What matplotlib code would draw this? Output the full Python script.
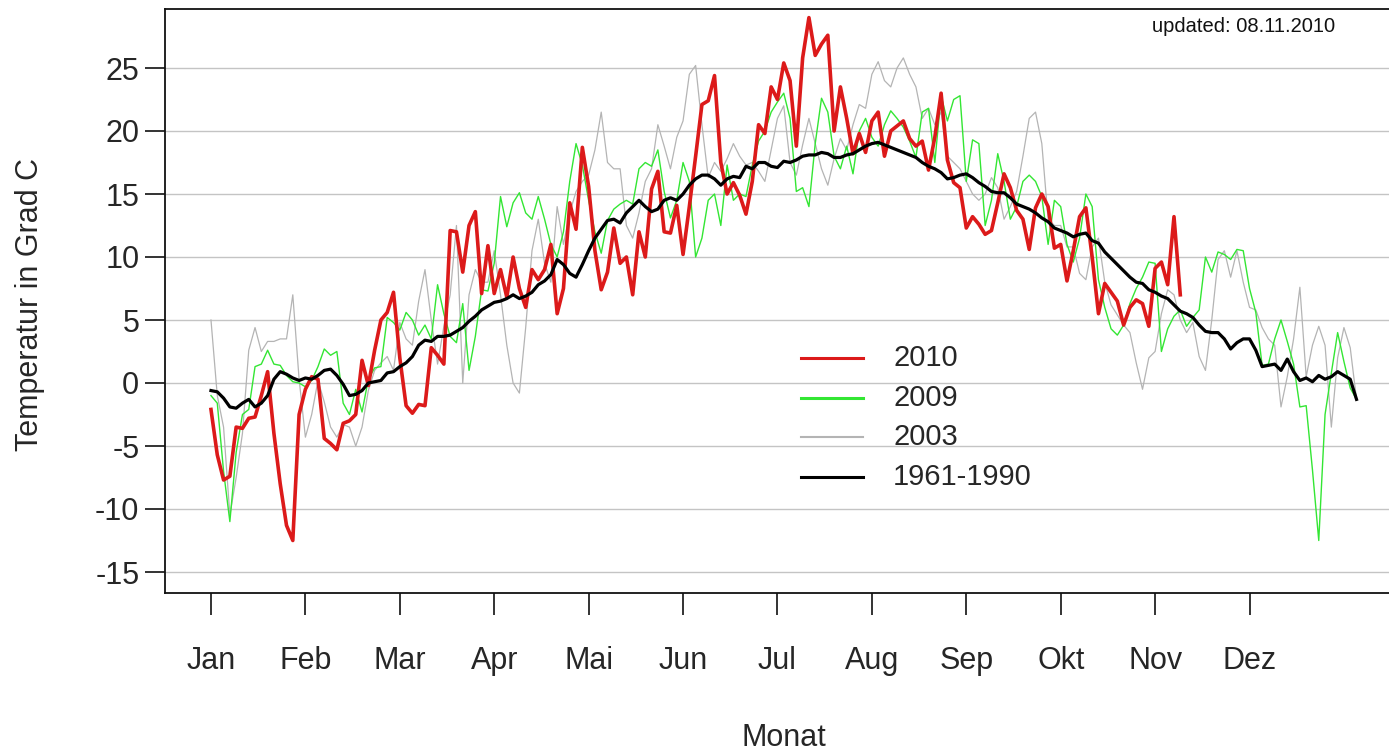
import numpy as np
import matplotlib
matplotlib.use("Agg")
import matplotlib.pyplot as plt
from matplotlib.lines import Line2D

plt.rcParams['font.family'] = ['Liberation Sans', 'DejaVu Sans']

# ---------------- data (one value every 2 days) ----------------
months = ['Jan', 'Feb', 'Mar', 'Apr', 'Mai', 'Jun', 'Jul', 'Aug', 'Sep', 'Okt', 'Nov', 'Dez']
yticks = [-15, -10, -5, 0, 5, 10, 15, 20, 25]
legend_labels = ['2010', '2009', '2003', '1961-1990']
day_step = 2

t2010 = [
    -2.1, -5.7, -7.7, -7.4, -3.5, -3.6, -2.8, -2.7, -1.0, 0.9,
    -4.0, -8.0, -11.3, -12.5, -2.5, -0.5, 0.5, 0.3, -4.4, -4.8,
    -5.3, -3.2, -3.0, -2.5, 1.8, -0.2, 2.6, 5.0, 5.6, 7.2,
    2.0, -1.8, -2.4, -1.7, -1.8, 2.8, 2.2, 1.5, 12.1, 12.0,
    8.8, 12.5, 13.6, 7.1, 10.9, 7.1, 9.0, 6.8, 10.0, 7.5,
    6.0, 9.0, 8.2, 9.0, 11.0, 5.5, 7.5, 14.3, 12.2, 18.7,
    15.6, 10.5, 7.4, 8.8, 12.3, 9.5, 10.0, 7.0, 12.0, 10.0,
    15.4, 16.8, 12.0, 11.9, 14.1, 10.2, 14.0, 18.0, 22.1, 22.4,
    24.4, 17.5, 15.0, 15.9, 14.9, 13.4, 16.0, 20.5, 19.8, 23.5,
    22.5, 25.4, 24.0, 18.8, 25.8, 29.0, 26.0, 26.9, 27.6, 20.0,
    23.5, 21.0, 18.2, 19.8, 18.3, 20.8, 21.5, 18.0, 20.0, 20.4,
    20.8, 19.4, 18.8, 19.2, 16.9, 19.5, 23.0, 17.7, 15.9, 15.5,
    12.3, 13.2, 12.6, 11.8, 12.1, 14.3, 16.6, 15.5, 13.7, 13.0,
    10.6, 13.9, 15.0, 14.0, 10.7, 11.0, 8.1, 10.5, 13.2, 13.9,
    10.0, 5.5, 7.9, 7.2, 6.5, 4.6, 6.0, 6.6, 6.3, 4.5,
    9.1, 9.6, 7.8, 13.2, 7.0,
]

t2009 = [
    -1.0, -1.6, -7.0, -11.0, -5.5, -2.5, -2.1, 1.3, 1.5, 2.6,
    1.5, 1.4, 0.6, 0.1, 0.0, -0.3, 0.2, 1.3, 2.7, 2.2,
    2.5, -1.6, -2.5, -0.5, -2.3, 0.3, 1.2, 1.3, 5.2, 4.8,
    4.2, 5.6, 5.0, 3.8, 4.6, 3.5, 7.8, 5.5, 3.7, 3.2,
    6.3, 1.0, 3.7, 7.4, 7.3, 9.5, 14.8, 12.4, 14.3, 15.1,
    13.5, 13.0, 14.8, 13.0, 11.0, 10.0, 12.0, 16.0, 19.0, 17.3,
    14.5, 12.0, 10.3, 12.9, 13.8, 14.2, 14.5, 14.2, 17.0, 17.5,
    17.2, 18.5, 15.2, 13.1, 14.5, 17.5, 16.0, 10.0, 11.5, 14.5,
    15.0, 12.5, 17.3, 14.5, 15.0, 14.8, 17.3, 19.2, 20.0, 21.5,
    22.3, 23.0, 21.0, 15.2, 15.5, 14.0, 19.0, 22.6, 21.5, 18.0,
    17.0, 18.8, 16.6, 20.0, 21.0, 19.5, 18.8, 20.5, 21.6, 21.0,
    20.3, 19.2, 17.9, 21.5, 21.8, 17.5, 22.8, 20.8, 22.5, 22.8,
    16.0, 19.3, 19.0, 12.5, 14.5, 18.2, 16.0, 13.0, 14.0, 16.0,
    16.5, 16.0, 14.8, 11.0, 14.5, 14.0, 11.0, 9.6, 11.5, 15.0,
    14.0, 8.2, 6.0, 4.3, 3.8, 4.6, 6.3, 7.5, 8.4, 9.6,
    9.5, 2.5, 4.3, 5.3, 5.8, 4.5, 5.2, 5.8, 10.0, 8.8,
    10.4, 10.2, 9.8, 10.6, 10.5, 7.5, 5.6, 1.4, 1.5, 3.5,
    5.0, 3.3, 1.5, -1.9, -1.8, -6.9, -12.5, -2.5, 0.8, 4.0,
    1.7, -0.4, -1.3,
]

t2003 = [
    5.0, -1.0, -3.5, -10.5, -7.5, -4.0, 2.6, 4.4, 2.5, 3.3,
    3.3, 3.5, 3.5, 7.0, 0.3, -4.3, -2.5, 0.2, -1.5, -3.5,
    -4.3, -3.3, -3.5, -5.0, -3.5, -0.6, 1.0, 1.6, 2.1, 1.0,
    4.8, 3.5, 3.0, 6.5, 9.0, 5.0, 1.5, 4.5, 7.0, 12.5,
    0.0, 7.0, 9.0, 8.0, 8.0, 10.5, 7.0, 3.0, 0.0, -0.8,
    4.4, 10.5, 13.0, 9.5, 8.0, 14.0, 11.0, 13.5, 15.2, 16.0,
    16.5, 18.5, 21.5, 17.5, 17.0, 17.0, 12.5, 11.5, 13.5, 16.0,
    17.0, 20.5, 18.8, 17.0, 19.5, 20.8, 24.5, 25.2, 20.5, 16.3,
    17.5, 16.8, 17.8, 19.0, 18.0, 17.3, 17.5, 16.8, 16.0, 18.5,
    21.0, 22.0, 17.5, 16.5, 18.9, 21.0, 19.0, 17.0, 15.7, 17.8,
    19.4, 18.5, 20.5, 22.1, 21.8, 24.5, 25.5, 24.0, 23.5, 25.0,
    25.8, 24.5, 23.5, 21.0, 21.8, 20.5, 21.5, 18.0, 17.5, 17.0,
    16.0, 15.0, 14.5, 15.0, 16.3, 15.5, 13.0, 14.0, 15.2, 18.0,
    21.0, 21.5, 19.0, 13.0, 12.5, 12.5, 10.8, 10.8, 8.7, 8.2,
    10.8, 11.5, 8.0, 6.2, 5.4, 4.6, 4.0, 1.6, -0.5, 2.0,
    2.5, 5.5, 7.4, 7.0, 5.0, 4.0, 4.8, 2.1, 1.0, 5.0,
    9.8, 10.5, 8.4, 10.5, 8.0, 6.0, 5.8, 4.4, 3.5, 3.0,
    -1.9, 0.5, 3.5, 7.6, 0.5, 3.0, 4.5, 3.0, -3.5, 2.0,
    4.4, 2.8, -1.3,
]

t_mean = [
    -0.6, -0.7, -1.2, -1.9, -2.0, -1.6, -1.3, -1.9, -1.6, -1.0,
    0.3, 0.9, 0.7, 0.4, 0.2, 0.4, 0.3, 0.6, 1.0, 1.1,
    0.6, -0.1, -1.0, -0.9, -0.6, 0.0, 0.1, 0.2, 0.8, 0.9,
    1.3, 1.6, 2.1, 3.0, 3.4, 3.3, 3.7, 3.7, 3.8, 4.1,
    4.4, 4.9, 5.3, 5.8, 6.1, 6.4, 6.5, 6.7, 7.0, 6.7,
    6.9, 7.2, 7.8, 8.1, 8.6, 9.8, 9.4, 8.7, 8.4, 9.4,
    10.5, 11.5, 12.2, 12.9, 13.0, 12.7, 13.5, 14.0, 14.5, 14.0,
    13.6, 13.8, 14.5, 14.7, 14.5, 15.0, 15.7, 16.2, 16.5, 16.5,
    16.2, 15.7, 16.2, 16.4, 16.3, 17.2, 17.0, 17.5, 17.5, 17.2,
    17.1, 17.6, 17.5, 17.7, 18.0, 18.1, 18.1, 18.3, 18.2, 17.9,
    17.9, 18.1, 18.2, 18.5, 18.8, 19.0, 19.1, 18.9, 18.7, 18.5,
    18.3, 18.1, 17.9, 17.5, 17.2, 17.0, 16.7, 16.2, 16.3, 16.5,
    16.6, 16.3, 15.9, 15.6, 15.2, 15.1, 15.1, 14.7, 14.2, 14.0,
    13.8, 13.5, 13.1, 12.8, 12.3, 12.1, 11.9, 11.6, 11.8, 11.9,
    11.3, 11.1, 10.4, 9.9, 9.4, 8.9, 8.4, 8.0, 7.9, 7.4,
    7.2, 6.9, 6.7, 6.2, 5.7, 5.5, 5.2, 4.6, 4.1, 4.0,
    4.0, 3.5, 2.7, 3.2, 3.5, 3.5, 2.6, 1.3, 1.4, 1.5,
    1.0, 1.9, 0.9, 0.2, 0.4, 0.1, 0.6, 0.3, 0.5, 0.9,
    0.6, 0.3, -1.3,
]

# ---------------- figure ----------------
W, H = 1389, 751
fig = plt.figure(figsize=(W / 100, H / 100), dpi=100)
fig.patch.set_facecolor('white')

def fx(px):
    return px / W

def fy(py):
    return 1 - py / H

ax = fig.add_axes([fx(165), fy(593), fx(1402) - fx(165), fy(9) - fy(593)])


def month_pos(values):
    days = 1 + day_step * np.arange(len(values))
    return 1 + (days - 1) / 30.0


col_2010 = '#dc1a1a'
col_2009 = '#33e633'
col_2003 = '#b4b4b4'
col_mean = '#000000'
txt_col = '#262626'

for yv in yticks:
    ax.axhline(yv, color='#c4c4c4', lw=1.0, zorder=1)

ax.plot(month_pos(t2003), t2003, color=col_2003, lw=0.9, zorder=2)
ax.plot(month_pos(t2009), t2009, color=col_2009, lw=1.0, zorder=3)
ax.plot(month_pos(t2010), t2010, color=col_2010, lw=2.6, zorder=4)
ax.plot(month_pos(t_mean), t_mean, color=col_mean, lw=2.3, zorder=5)

ax.set_xlim(0.513, 13.615)
ax.set_ylim((383 - 593) / 12.6, (383 - 9) / 12.6)

ax.set_xticks(np.arange(1, len(months) + 1))
ax.set_xticklabels(months)
ax.set_yticks(yticks)
ax.set_yticklabels([str(v) for v in yticks])

ax.tick_params(axis='x', direction='out', length=15.5, width=1.2, pad=23,
               labelsize=22, colors='#111111')
ax.tick_params(axis='y', direction='out', length=14.5, width=1.2, pad=4,
               labelsize=22, colors='#111111')
for lab in ax.get_xticklabels() + ax.get_yticklabels():
    lab.set_color(txt_col)

for s in ['left', 'bottom', 'top']:
    ax.spines[s].set_linewidth(1.3)
    ax.spines[s].set_color('#111111')
ax.spines['right'].set_visible(False)

fig.text(fx(30), fy(305), 'Temperatur in Grad C', rotation=90, ha='center',
         va='center', fontsize=22, color=txt_col)
fig.text(fx(784), fy(738), 'Monat', ha='center', va='center', fontsize=22,
         color=txt_col)
fig.text(fx(1244), fy(27), 'updated: 08.11.2010', ha='center', va='center',
         fontsize=14.5, color='#111111')

# legend (no frame)
leg_cols = [col_2010, col_2009, col_2003, col_mean]
leg_lw = [2.2, 2.2, 1.5, 2.2]
leg_y = [358, 398, 437, 477]
for lab, c, lw, yy in zip(legend_labels, leg_cols, leg_lw, leg_y):
    fig.add_artist(Line2D([fx(801), fx(863)], [fy(yy), fy(yy)], color=c, lw=lw,
                          transform=fig.transFigure))
    fig.text(fx(893), fy(yy), lab, ha='left', va='center', fontsize=21,
             color=txt_col)

fig.savefig('out.png', dpi=100, facecolor='white')
